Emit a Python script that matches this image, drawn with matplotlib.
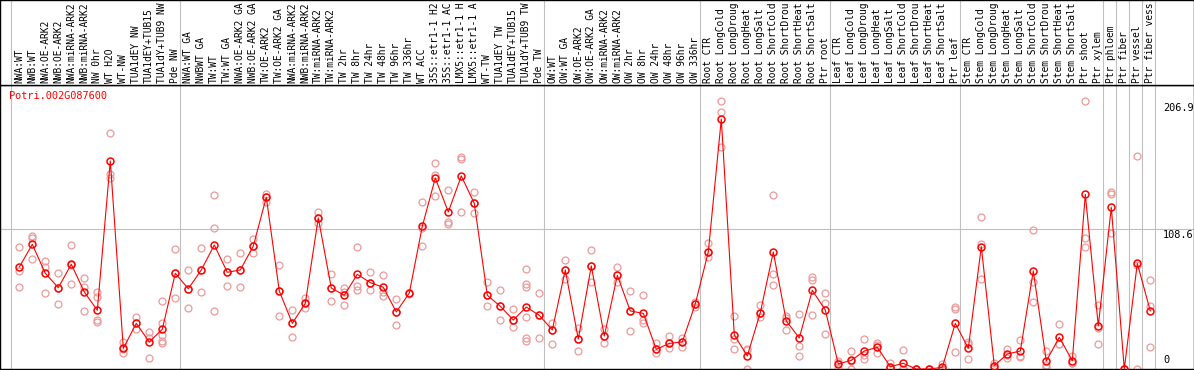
import numpy as np
import matplotlib
matplotlib.use('Agg')
from matplotlib import pyplot as plt

# sample labels (left to right)
labels = [
    'NWA:WT', 'NWB:WT', 'NWA:OE-ARK2', 'NWB:OE-ARK2', 'NWA:miRNA-ARK2', 'NWB:miRNA-ARK2',
    'NW 0hr', 'WT H2O', 'WT-NW', 'TUA1dEY NW', 'TUA1dEY+TUB15 NW', 'TUA1dY+TUB9 NW', 'Pde NW',
    'NWA:WT GA', 'NWBWT GA', 'TW:WT', 'TW:WT GA', 'NWA:OE-ARK2 GA', 'NWB:OE-ARK2 GA',
    'TW:OE-ARK2', 'TW:OE-ARK2 GA', 'NWA:miRNA-ARK2 GA', 'NWB:miRNA-ARK2 GA', 'TW:miRNA-ARK2',
    'TW:miRNA-ARK2', 'TW 2hr', 'TW 8hr', 'TW 24hr', 'TW 48hr', 'TW 96hr', 'TW 336hr', 'WT ACC',
    '35S::etr1-1 H2O', '35S::etr1-1 ACC', 'LMX5::etr1-1 H2O', 'LMX5::etr1-1 ACC', 'WT-TW',
    'TUA1dEY TW', 'TUA1dEY+TUB15 TW', 'TUA1dY+TUB9 TW', 'Pde TW',
    'OW:WT', 'OW:WT GA', 'OW:OE-ARK2', 'OW:OE-ARK2 GA', 'OW:miRNA-ARK2', 'OW:miRNA-ARK2',
    'OW 2hr', 'OW 8hr', 'OW 24hr', 'OW 48hr', 'OW 96hr', 'OW 336hr',
    'Root CTR', 'Root LongCold', 'Root LongDrought', 'Root LongHeat', 'Root LongSalt',
    'Root ShortCold', 'Root ShortDrought', 'Root ShortHeat', 'Root ShortSalt', 'Ptr root',
    'Leaf CTR', 'Leaf LongCold', 'Leaf LongDrought', 'Leaf LongHeat', 'Leaf LongSalt',
    'Leaf ShortCold', 'Leaf ShortDrought', 'Leaf ShortHeat', 'Leaf ShortSalt', 'Ptr leaf',
    'Stem CTR', 'Stem LongCold', 'Stem LongDrought', 'Stem LongHeat', 'Stem LongSalt',
    'Stem ShortCold', 'Stem ShortDrought', 'Stem ShortHeat', 'Stem ShortSalt',
    'Ptr shoot', 'Ptr xylem', 'Ptr phloem', 'Ptr fiber', 'Ptr vessel', 'Ptr fiber vessel',
]

# mean expression per sample
means = [
    78.9, 96.4, 74.0, 62.9, 81.0, 59.6, 45.4, 160.9, 16.0, 35.3,
    20.9, 30.7, 74.0, 62.1, 76.6, 95.9, 74.8, 76.6, 95.1, 132.8,
    60.3, 35.3, 50.8, 116.8, 62.6, 57.0, 73.2, 66.8, 63.2, 44.1,
    58.8, 110.3, 147.7, 121.4, 149.3, 128.1, 57.0, 48.5, 37.9, 47.9,
    41.5, 30.2, 76.6, 23.2, 79.7, 25.5, 72.4, 44.9, 43.0, 15.2,
    19.8, 20.9, 50.3, 90.5, 193.3, 26.3, 10.1, 43.6, 90.5, 37.1,
    24.0, 60.8, 45.6, 3.9, 6.7, 13.9, 16.8, 1.8, 4.4, 0.0,
    0.0, 1.3, 35.3, 16.0, 94.6, 2.6, 11.6, 13.9, 75.8, 6.2,
    24.5, 6.4, 135.1, 33.3, 125.0, 0.0, 81.7, 44.9,
]

# replicate values per sample
replicates = [
    [94.6, 76.0, 63.2], [103.1, 101.6, 84.8], [83.5, 78.9, 58.5], [74.0, 62.9, 50.0],
    [95.9, 80.5, 65.5], [70.4, 63.2, 44.6], [59.8, 55.9, 38.1, 36.6], [182.3, 151.1, 148.0],
    [21.1, 15.5, 12.1], [40.5, 35.3, 30.7], [28.4, 24.2, 8.2], [52.6, 35.3, 26.3, 21.7, 19.8],
    [92.8, 74.0, 54.6], [76.6, 62.1, 46.9], [93.3, 76.6, 59.3], [134.6, 108.8, 44.9],
    [85.1, 74.8, 64.2], [89.7, 76.6, 63.2], [100.5, 95.1, 89.4], [135.6, 132.8, 129.4],
    [80.2, 60.3, 41.0], [45.4, 35.3, 24.5], [54.6, 50.8, 46.9], [121.7, 116.8, 112.7],
    [73.2, 62.4, 52.6], [62.4, 59.8, 49.5], [94.1, 64.2, 61.1], [75.0, 66.8, 61.1],
    [72.4, 59.8, 56.2], [54.1, 44.1, 34.0], [58.8, 58.0], [128.9, 108.8, 94.9],
    [159.1, 149.8, 133.8], [138.2, 113.9, 111.9], [164.2, 162.4, 121.4], [136.6, 128.1, 120.6],
    [67.0, 57.0, 48.7], [60.8, 48.5, 37.6], [46.1, 37.9, 32.7], [77.3, 66.0, 63.7, 40.5, 23.7, 21.9],
    [58.5, 41.5, 24.0], [35.3, 30.2, 19.3], [84.3, 76.6, 69.3], [31.4, 23.2, 14.2],
    [91.8, 79.7, 67.5], [30.7, 25.5, 19.8], [78.6, 72.4, 67.0], [60.1, 44.9, 29.1],
    [57.0, 37.6, 35.3], [20.1, 15.2, 12.1], [25.8, 19.8, 16.0], [24.2, 20.9, 17.3],
    [52.1, 50.3, 48.2], [97.2, 90.5, 86.4], [206.9, 199.0, 171.4], [41.0, 23.0, 15.2],
    [14.7, 15.5, 0.0], [49.5, 43.6, 40.5], [134.6, 73.2, 64.7], [41.3, 39.8, 30.2],
    [42.5, 17.8, 10.1], [71.4, 68.8, 41.5], [58.5, 50.8, 27.1], [6.4, 4.8, 0.5],
    [13.9, 6.2, 0.0], [23.0, 11.2, 7.5], [19.8, 18.5, 12.1], [4.4, 0.5, 0.5],
    [14.4, 0.0, 0.0], [0.0, 0.0, 0.0], [0.0, 0.0, 0.0], [3.6, 0.3, 0.0],
    [47.9, 46.1, 12.9], [21.1, 19.4, 7.5], [117.3, 96.3, 69.5], [4.4, 2.6, 0.8],
    [15.5, 10.8, 8.5], [22.4, 10.1, 9.2], [107.5, 67.0, 51.6], [13.9, 2.9, 1.8],
    [34.8, 19.7, 19.1], [10.1, 4.7, 4.4], [206.9, 101.1, 94.6], [49.5, 31.4, 19.1],
    [137.1, 135.1, 104.9], [0.0, 0.0, 0.0], [164.7, 80.4, 0.0], [68.8, 48.7, 16.8],
]

# sample index after which a separator line is drawn
group_ends = [0, 13, 41, 53, 63, 73, 84, 85, 86, 87, 88]
gene = 'Potri.002G087600'
ymax, ymid = 206.9, 108.6
max_chars = 14  # the label strip only has room for this many characters

W, H = 1194, 370
fig = plt.figure(figsize=(W / 100, H / 100), dpi=100)
x = np.arange(1, len(labels) + 1)
xlim = (1 - 19.3 / 13.0, 1 + (W - 19.3) / 13.0)
grey = '#c0c0c0'
mono = 'DejaVu Sans Mono'

# plot area
ax = fig.add_axes([0, 1 / H, 1, 284 / H])
ax.set_xlim(xlim)
ax.set_ylim(0, 284 / 1.293)
ax.set_xticks([])
ax.set_yticks([])
for s in ax.spines.values():
    s.set_color('black')
    s.set_linewidth(1.0)

ax.axhline(ymid, color=grey, lw=0.8, zorder=1)
for g in group_ends:
    ax.axvline(g + 0.38, color=grey, lw=0.8, zorder=1)

rx = [i + 1 for i, r in enumerate(replicates) for _ in r]
ry = [v for r in replicates for v in r]
ax.plot(rx, ry, 'o', ms=5, mfc='none', mec='#ec9a9a', mew=0.9, zorder=2)
ax.plot(x, means, '-', color='red', lw=0.8, zorder=3)
ax.plot(x, means, 'o', ms=5, mfc='none', mec='red', mew=1.1, zorder=4)

ax.text(9 / W, 1 - 6 / 284, gene, transform=ax.transAxes, color='red',
        family=mono, fontsize=7.4, va='top', ha='left')
tr = ax.get_yaxis_transform()
ax.text(1163 / W, ymax - 1.5, f'{ymax}', transform=tr, family=mono, fontsize=7.4, va='top')
ax.text(1163 / W, ymid - 0.8, f'{ymid}', transform=tr, family=mono, fontsize=7.4, va='top')
ax.text(1163 / W, 3.0, '0', transform=tr, family=mono, fontsize=7.4, va='bottom')

# label area
lax = fig.add_axes([0, 285 / H, 1, 85 / H])
lax.set_xlim(xlim)
lax.set_ylim(0, 85)
lax.set_xticks([])
lax.set_yticks([])
for s in lax.spines.values():
    s.set_color('black')
    s.set_linewidth(1.0)
for g in group_ends:
    lax.axvline(g + 0.38, color=grey, lw=0.8)
for xi, lab in zip(x, labels):
    lax.text(xi, 2.0, lab[:max_chars].rstrip(), rotation=90, ha='center', va='bottom',
             family=mono, fontsize=6.9, clip_on=True)

fig.savefig('out.png', dpi=100)
